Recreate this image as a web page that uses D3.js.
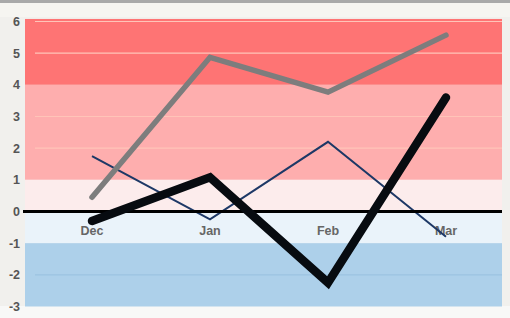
<!DOCTYPE html>
<html>
<head>
<meta charset="utf-8">
<script src="https://cdn.jsdelivr.net/npm/d3@7"></script>
<style>
	body { margin: 0; background: #f1f0ed; }
	svg { display: block; font-family: "Liberation Sans", Arial, sans-serif; }
</style>
</head>
<body>
<svg id="chart" width="510" height="318"></svg>
<script>
var months = ['Dec', 'Jan', 'Feb', 'Mar'];
var yTicks = [-3, -2, -1, 0, 1, 2, 3, 4, 5, 6];

var grayValues = [0.45, 4.87, 3.77, 5.57];
var navyValues = [1.75, -0.25, 2.2, -0.8];
var blackValues = [-0.3, 1.08, -2.25, 3.6];

// bands: [from, to, colour]
var bandFrom = [4, 1, 0, -1, -3];
var bandTo = [6.08, 4, 1, 0, -1];
var bandColors = ['#fe7474', '#feaeae', '#fcecec', '#eaf3fa', '#add0ea'];

var config = {
	margin: {top: 19, right: 8, bottom: 11, left: 25}
};

var svg = d3.select('#chart'),
	width = 510 - config.margin.left - config.margin.right,
	height = 318 - config.margin.top - config.margin.bottom;

// faint top strip like the source screenshot
svg.append('rect').attr('x', 0).attr('y', 0).attr('width', 510).attr('height', 3).attr('fill', '#a9a9a9');
svg.append('rect').attr('x', 0).attr('y', 3).attr('width', 510).attr('height', 14).attr('fill', '#f6f5f1');
svg.append('rect').attr('x', 0).attr('y', 306).attr('width', 510).attr('height', 12).attr('fill', '#f8f8f7');

var g = svg.append('g').attr('transform', 'translate(' + config.margin.left + ',' + config.margin.top + ')');

var y = d3.scaleLinear().domain([-3, 6]).range([287.5, 2.5]);
var x = d3.scalePoint().domain(months).range([67, 421]);

g.selectAll('rect.band').data(bandColors)
	.enter().append('rect')
	.attr('class', 'band')
	.attr('x', 0)
	.attr('width', width)
	.attr('y', function(d, i){ return y(bandTo[i]); })
	.attr('height', function(d, i){ return y(bandFrom[i]) - y(bandTo[i]); })
	.attr('fill', function(d){ return d; });

// light grid lines inside bands
g.selectAll('line.grid').data([6, 5, 3, 2, -2])
	.enter().append('line')
	.attr('class', 'grid')
	.attr('x1', 10).attr('x2', width)
	.attr('y1', function(d){ return y(d); })
	.attr('y2', function(d){ return y(d); })
	.attr('stroke', function(d){ return d < 0 ? '#9cc3e1' : '#ffc4b8'; })
	.attr('stroke-width', 1.2);

// y labels
svg.selectAll('text.ylab').data(yTicks)
	.enter().append('text')
	.attr('class', 'ylab')
	.attr('x', 20)
	.attr('y', function(d){ return config.margin.top + y(d) + 4.5; })
	.attr('text-anchor', 'end')
	.attr('font-size', 12.5)
	.attr('font-weight', 'bold')
	.attr('fill', '#555')
	.text(function(d){ return d; });

// x labels
g.selectAll('text.xlab').data(months)
	.enter().append('text')
	.attr('class', 'xlab')
	.attr('x', function(d){ return x(d); })
	.attr('y', y(0) + 23)
	.attr('text-anchor', 'middle')
	.attr('font-size', 12.5)
	.attr('font-weight', 'bold')
	.attr('fill', '#666')
	.text(function(d){ return d; });

var line = d3.line()
	.x(function(d, i){ return x(months[i]); })
	.y(function(d){ return y(d); });

g.append('path').datum(navyValues)
	.attr('d', line).attr('fill', 'none')
	.attr('stroke', '#1d3866').attr('stroke-width', 2);

g.append('path').datum(grayValues)
	.attr('d', line).attr('fill', 'none')
	.attr('stroke', '#7d7d7d').attr('stroke-width', 5.5)
	.attr('stroke-linecap', 'round').attr('stroke-linejoin', 'miter');

// zero line
g.append('line')
	.attr('x1', -2).attr('x2', width)
	.attr('y1', y(0)).attr('y2', y(0))
	.attr('stroke', '#000').attr('stroke-width', 3);

g.append('path').datum(blackValues)
	.attr('d', line).attr('fill', 'none')
	.attr('stroke', '#070b10').attr('stroke-width', 8.5)
	.attr('stroke-linecap', 'round').attr('stroke-linejoin', 'miter');
</script>
</body>
</html>
